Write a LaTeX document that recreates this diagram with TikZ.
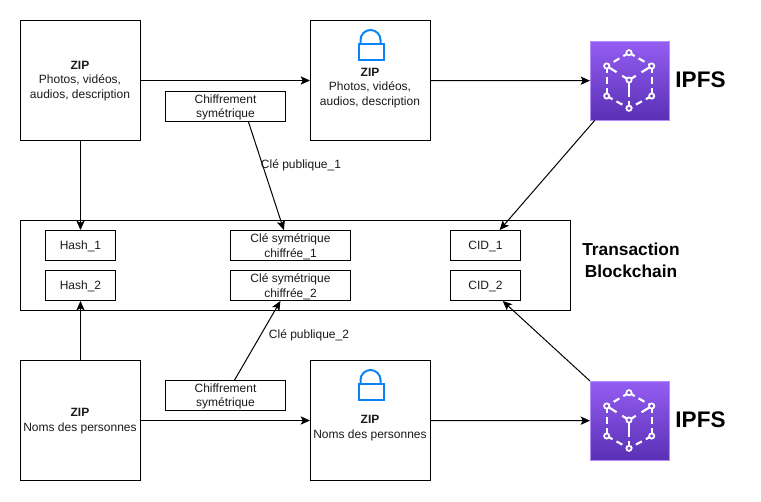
\documentclass[tikz,border=0pt]{standalone}
\usepackage{fontspec}
\setmainfont{Liberation Sans}
\usetikzlibrary{calc,arrows.meta}
\definecolor{txt}{HTML}{1A1A1A}
\definecolor{lockblue}{HTML}{0A84F5}
\definecolor{ipfstop}{HTML}{945DF2}
\definecolor{ipfsbot}{HTML}{5A30B5}
\newcommand{\tp}{\rule{0pt}{8.2pt}}
\tikzset{
  x=0.75pt,y=-0.75pt,
  every node/.style={font=\fontsize{9}{10.9}\selectfont,text=txt,align=center,inner sep=0pt},
  box/.style={draw=black,line width=0.75pt,fill=white,anchor=north west},
  bigbox/.style={box,minimum width=90pt,minimum height=90pt},
  smallbox/.style={box,minimum width=90pt,minimum height=22.5pt},
  hashbox/.style={box,minimum width=52.5pt,minimum height=22.5pt},
  conn/.style={draw=black,line width=0.75pt,-{Stealth[length=7pt,width=6.2pt,inset=1.6pt]}},
  ipfs/.style={anchor=north west,minimum width=59pt,minimum height=59pt,draw=ipfstop!70!white,line width=0.5pt,top color=ipfstop,bottom color=ipfsbot},
  ipfstext/.style={font=\fontsize{16.9}{18}\bfseries\selectfont,text=black},
  edgeline/.style={draw=white,line width=1.6pt,dash pattern=on 5pt off 3.4pt},
  spokeline/.style={draw=white,line width=1.6pt,dash pattern=on 6pt off 5pt on 9pt},
  stemline/.style={draw=white,line width=1.6pt,dash pattern=on 13pt off 3pt on 6pt},
  vertex/.style={draw=white,line width=1.3pt,fill=ipfsbot!50!ipfstop},
  lockline/.style={draw=lockblue,line width=1.5pt}
}
\newcommand{\ipfsicon}[2]{%
  \begin{scope}[shift={(#1,#2)}]
    \coordinate (t) at (39,11.7);
    \coordinate (ul) at (16.7,25);
    \coordinate (ur) at (61.7,25);
    \coordinate (c) at (39,39);
    \coordinate (ll) at (16.7,55);
    \coordinate (lr) at (61.7,55);
    \coordinate (b) at (39,67.3);
    \foreach \p/\q in {t/ul,t/ur,ul/ll,ur/lr,ll/b,lr/b}
      \draw[edgeline] (\p) -- (\q);
    \draw[spokeline] (c) -- (ul);
    \draw[spokeline] (c) -- (ur);
    \draw[stemline] (c) -- (b);
    \foreach \p in {t,ul,ur,c,ll,lr,b}
      \draw[vertex] (\p) circle (2.6);
  \end{scope}}
\newcommand{\lockicon}[2]{%
  \begin{scope}[shift={(#1,#2)}]
    \draw[lockline] (-12,14) rectangle (13,30);
    \draw[lockline] (-10,14) -- (-10,10) arc[start angle=180,end angle=360,radius=10] -- (10,14);
  \end{scope}}
\begin{document}
\begin{tikzpicture}
\useasboundingbox (0,0) rectangle (761,501);
\fill[white] (0,0) rectangle (761,501);
% big boxes
\node[bigbox] (zipA) at (20,20) {};
\node[bigbox] (encA) at (310,20) {};
\node[bigbox] (zipB) at (20,360) {};
\node[bigbox] (encB) at (310,360) {};
\node (zipAtxt) at (80,81) {\textbf{ZIP}\\Photos, vidéos,\\audios, description};
\node (encAtxt) at (370,88) {\textbf{ZIP}\\Photos, vidéos,\\audios, description};
\node (zipBtxt) at (80,421) {\textbf{ZIP}\\Noms des personnes};
\node (encBtxt) at (370,428) {\textbf{ZIP}\\Noms des personnes};
\lockicon{370.5}{30}
\lockicon{370.5}{370}
% algorithm boxes
\node[smallbox] (chiA) at (165,91) {\tp Chiffrement\\symétrique};
\node[smallbox] (chiB) at (165,380) {\tp Chiffrement\\symétrique};
% transaction
\node[box,minimum width=412.5pt,minimum height=67.5pt] (tx) at (20,220) {};
\node[hashbox] (h1) at (45,230) {\tp Hash\_1};
\node[hashbox] (h2) at (45,270) {\tp Hash\_2};
\node[smallbox] (k1) at (230,230) {\tp Clé symétrique\\chiffrée\_1};
\node[smallbox] (k2) at (230,270) {\tp Clé symétrique\\chiffrée\_2};
\node[hashbox] (c1) at (450,230) {\tp CID\_1};
\node[hashbox] (c2) at (450,270) {\tp CID\_2};
\node[font=\fontsize{13}{16.5}\bfseries\selectfont,text=black] (txl) at (631,260) {Transaction\\Blockchain};
% IPFS
\node[ipfs] (ipA) at (590,41) {};
\node[ipfs] (ipB) at (590,381) {};
\ipfsicon{590}{41}
\ipfsicon{590}{381}
\node[ipfstext] (ipAl) at (700.5,80) {IPFS};
\node[ipfstext] (ipBl) at (700.5,420) {IPFS};
% connectors
\draw[conn] (zipA.east) -- (encA.west);
\draw[conn] (encA.east) -- (ipA.west);
\draw[conn] (zipB.east) -- (encB.west);
\draw[conn] (encB.east) -- (ipB.west);
\draw[conn] (zipA.south) -- (h1.north -| zipA.south);
\draw[conn] (zipB.north) -- (h2.south -| zipB.north);
\draw[conn] ($(chiA.south west)!0.69!(chiA.south east)$) -- ($(k1.north west)!0.445!(k1.north east)$);
\node (lk1) at (301,165) {Clé publique\_1};
\draw[conn] ($(chiB.north west)!0.575!(chiB.north east)$) -- ($(k2.south west)!0.4167!(k2.south east)$);
\node (lk2) at (309,335.5) {Clé publique\_2};
\draw[conn] ($(ipA.south west)!0.06!(ipA.south east)$) -- ($(c1.north west)!0.7!(c1.north east)$);
\draw[conn] (ipB.north west) -- ($(c2.south west)!0.743!(c2.south east)$);
\end{tikzpicture}
\end{document}
